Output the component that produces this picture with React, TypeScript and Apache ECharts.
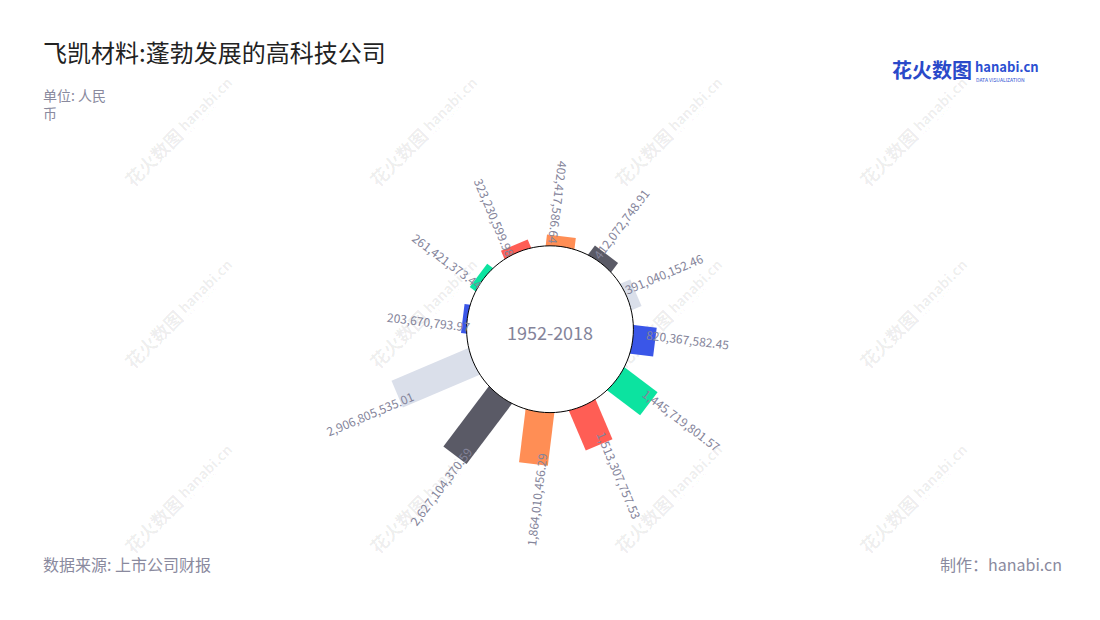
import React, { useEffect, useRef } from 'react';
import * as echarts from 'echarts';

const categories = ['2007', '2008', '2009', '2010', '2011', '2012', '2013', '2014', '2015', '2016', '2017', '2018'];
const revenue = [
  203670793.97, 261421373.44, 323230599.98, 402417586.64, 412072748.91, 391040152.46,
  820367582.45, 1445719801.57, 1513307757.53, 1864010456.29, 2627104370.59, 2906805535.01,
];
const palette = ['#3a56e8', '#0ce3a0', '#ff5e55', '#ff8e55', '#5a5a66', '#dadfea'];
const titleText = '飞凯材料:蓬勃发展的高科技公司';
const unitText = '单位: 人民币';
const centerText = '1952-2018';
const sourceText = '数据来源: 上市公司财报';
const creditText = '制作：hanabi.cn';
const logoCn = '花火数图';
const logoEn = 'hanabi.cn';
const logoSub = 'DATA VISUALIZATION';

const FONT = '"Noto Sans CJK SC", "Noto Sans", sans-serif';
const LABEL_COLOR = '#84849a';

function fmt(v: number) {
  return v.toLocaleString('en-US', { minimumFractionDigits: 2, maximumFractionDigits: 2 });
}

function watermark(x: number, y: number) {
  const fill = 'rgba(0,0,0,0.07)';
  return {
    type: 'group',
    x,
    y,
    rotation: Math.PI / 4,
    silent: true,
    z: 50,
    children: [
      { type: 'text', x: -2, y: 0, style: { text: logoCn, font: `bold 18px ${FONT}`, fill, align: 'right', verticalAlign: 'middle' } },
      { type: 'text', x: 2, y: -1, style: { text: logoEn, font: `bold 14px ${FONT}`, fill, align: 'left', verticalAlign: 'middle' } },
      { type: 'text', x: 3, y: 8, style: { text: logoSub, font: `4px ${FONT}`, fill, align: 'left', verticalAlign: 'middle' } },
    ],
  };
}

export default function App() {
  const ref = useRef<HTMLDivElement>(null);
  useEffect(() => {
    if (!ref.current) return;
    const chart = echarts.init(ref.current, undefined, { renderer: 'svg' });
    const marks: any[] = [];
    [180, 425, 670, 915].forEach((x) => [130, 312, 497].forEach((y) => marks.push(watermark(x, y))));

    const option: any = {
      animation: false,
      backgroundColor: '#fff',
      polar: { center: ['50%', '53.1%'], radius: [82, 168.7] },
      angleAxis: { type: 'category', data: categories, startAngle: 188, clockwise: true, show: false },
      radiusAxis: { type: 'value', min: 0, max: 3000000000, show: false },
      series: [
        {
          type: 'custom',
          coordinateSystem: 'polar',
          data: revenue.map((v, i) => [v, i]),
          encode: { radius: 0, angle: 1 },
          renderItem: (params: any, api: any) => {
            const cs = params.coordSys;
            const idx = params.dataIndex;
            const v = api.value(0);
            const end = api.coord([v, api.value(1)]);
            const cx = cs.cx;
            const cy = cs.cy;
            const dx = end[0] - cx;
            const dy = end[1] - cy;
            const rEnd = Math.sqrt(dx * dx + dy * dy);
            const ux = dx / rEnd;
            const uy = dy / rEnd;
            const nx = uy;
            const ny = -ux;
            const hw = 14.5;
            const rs = cs.r0 - 20;
            const sx = cx + ux * rs;
            const sy = cy + uy * rs;
            const color = palette[idx % palette.length];
            const children: any[] = [
              {
                type: 'polygon',
                shape: {
                  points: [
                    [sx + nx * hw, sy + ny * hw],
                    [end[0] + nx * hw, end[1] + ny * hw],
                    [end[0] - nx * hw, end[1] - ny * hw],
                    [sx - nx * hw, sy - ny * hw],
                  ],
                },
                style: { fill: color },
                z2: 0,
              },
            ];
            const alpha = (Math.atan2(-uy, ux) * 180) / Math.PI;
            const outward = alpha > -90 && alpha < 70;
            const ra = 0.925 * rEnd - 1.5;
            const off = 7;
            const ax = cx + ux * ra + nx * off;
            const ay = cy + uy * ra + ny * off;
            const phi = Math.atan2(-uy, ux);
            children.push({
              type: 'text',
              x: ax,
              y: ay,
              rotation: outward ? phi : phi - Math.PI,
              style: {
                text: fmt(v),
                font: `12px ${FONT}`,
                fill: LABEL_COLOR,
                align: outward ? 'left' : 'right',
                verticalAlign: 'middle',
              },
              z2: 10,
            });
            if (idx === 0) {
              children.push({
                type: 'circle',
                shape: { cx, cy, r: cs.r0 + 1.4 },
                style: { fill: '#ffffff', stroke: '#000000', lineWidth: 1 },
                z2: 5,
              });
              children.push({
                type: 'text',
                x: cx,
                y: cy + 3,
                style: {
                  text: centerText,
                  font: `18px ${FONT}`,
                  fill: LABEL_COLOR,
                  align: 'center',
                  verticalAlign: 'middle',
                },
                z2: 6,
              });
            }
            return { type: 'group', children };
          },
        },
      ],
      graphic: [
        ...marks,
        { type: 'text', left: 43, top: 39, style: { text: titleText, font: `24px ${FONT}`, fill: '#222222' } },
        {
          type: 'text',
          left: 43,
          top: 86,
          style: { text: unitText, font: `14px ${FONT}`, fill: '#8a8a9e', width: 72, overflow: 'break', lineHeight: 18 },
        },
        { type: 'text', left: 43, top: 556, style: { text: sourceText, font: `16px ${FONT}`, fill: '#8a8a9e' } },
        { type: 'text', right: 38, top: 556, style: { text: creditText, font: `16px ${FONT}`, fill: '#8a8a9e' } },
        { type: 'text', left: 892, top: 59, style: { text: logoCn, font: `bold 20px ${FONT}`, fill: '#2a49c9' } },
        { type: 'text', left: 975, top: 60, style: { text: logoEn, font: `bold 13px ${FONT}`, fill: '#2b4fd2' } },
        { type: 'text', left: 976, top: 77, style: { text: logoSub, font: `5px ${FONT}`, fill: '#2b4fd2' } },
      ],
    };
    chart.setOption(option);
    return () => chart.dispose();
  }, []);
  return <div ref={ref} style={{ position: 'absolute', left: 0, top: 0, width: 1100, height: 620 }} />;
}
